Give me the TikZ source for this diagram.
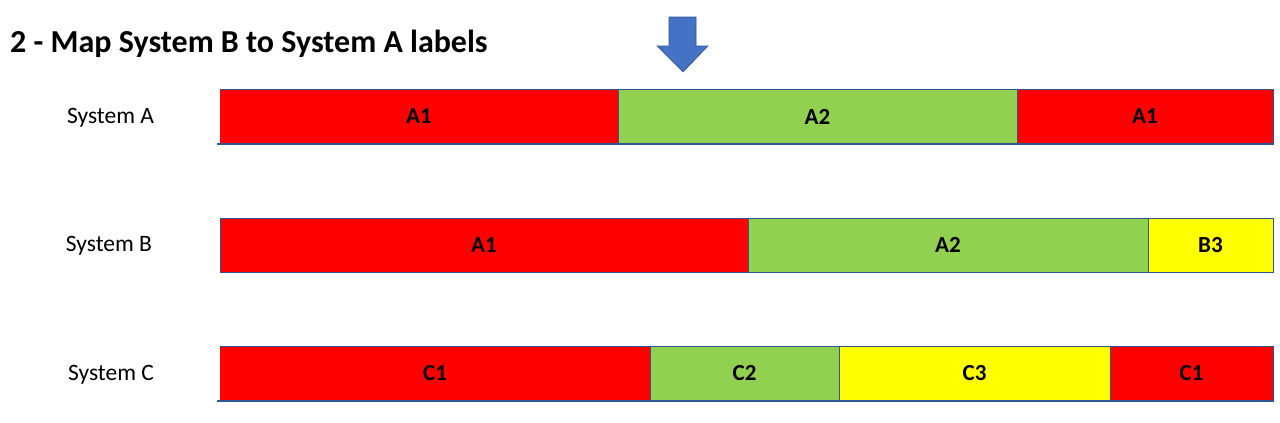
\documentclass[tikz,border=0pt]{standalone}
\usepackage{fontspec}
\setmainfont{Carlito}
\definecolor{segred}{HTML}{FF0000}
\definecolor{seggreen}{HTML}{92D050}
\definecolor{segyellow}{HTML}{FFFF00}
\definecolor{edge}{HTML}{2F5597}
\definecolor{arrowblue}{HTML}{4472C4}
\begin{document}
\begin{tikzpicture}[x=1pt,y=-1pt,
  segbase/.style={anchor=north west, inner sep=0pt, outer sep=0pt,
    font=\fontsize{23}{26}\selectfont\bfseries, text=black},
  seg/.style={segbase, draw=edge, line width=1pt},
  bare/.style={segbase},
  sysname/.style={anchor=base, font=\fontsize{23.5}{27}\selectfont, text=black},
  rowline/.style={draw=edge, line width=1.6pt}
]
\useasboundingbox (0,0) rectangle (1280,423);
% title
\node[anchor=base west, inner sep=0pt, font=\fontsize{32}{36}\selectfont\bfseries] (title) at (10,52) {2 - Map System B to System A labels};
% arrow
\filldraw[fill=arrowblue, draw=edge, line width=0.6pt]
  (669,17) -- (696,17) -- (696,46) -- (708,46) -- (683,72) -- (657,46) -- (669,46) -- cycle;
% System A
\node[sysname] (la) at (110.5,123) {System A};
\node[bare, fill=segred, minimum width=398pt, minimum height=55pt] (a1) at (220,89) {A1};
\node[seg, fill=seggreen, minimum width=399pt, minimum height=55pt] (a2) at (618,89) {A2};
\node[seg, fill=segred, minimum width=256pt, minimum height=55pt] (a3) at (1017,89) {A1};
\draw[draw=edge, line width=1pt] (a1.north west) -- (a1.north east);
\coordinate (abl) at ([xshift=-3pt]a1.south west);
\draw[rowline] (abl) -- (a3.south east);
% System B
\node[sysname] (lb) at (109,251.5) {System B};
\node[seg, fill=segred, minimum width=528pt, minimum height=54pt] (b1) at (220,218) {A1};
\node[seg, fill=seggreen, minimum width=400pt, minimum height=54pt] (b2) at (748,218) {A2};
\node[seg, fill=segyellow, minimum width=125pt, minimum height=54pt] (b3) at (1148,218) {B3};
% System C
\node[sysname] (lc) at (111,380) {System C};
\node[bare, fill=segred, minimum width=430pt, minimum height=55pt] (c1) at (220,346) {C1};
\node[seg, fill=seggreen, minimum width=189pt, minimum height=55pt] (c2) at (650,346) {C2};
\node[seg, fill=segyellow, minimum width=271pt, minimum height=55pt] (c3) at (839,346) {C3};
\node[seg, fill=segred, minimum width=163pt, minimum height=55pt] (c4) at (1110,346) {C1};
\draw[draw=edge, line width=1pt] (c1.north west) -- (c1.north east);
\coordinate (cbl) at ([xshift=-3pt]c1.south west);
\draw[rowline] (cbl) -- (c4.south east);
\end{tikzpicture}
\end{document}
